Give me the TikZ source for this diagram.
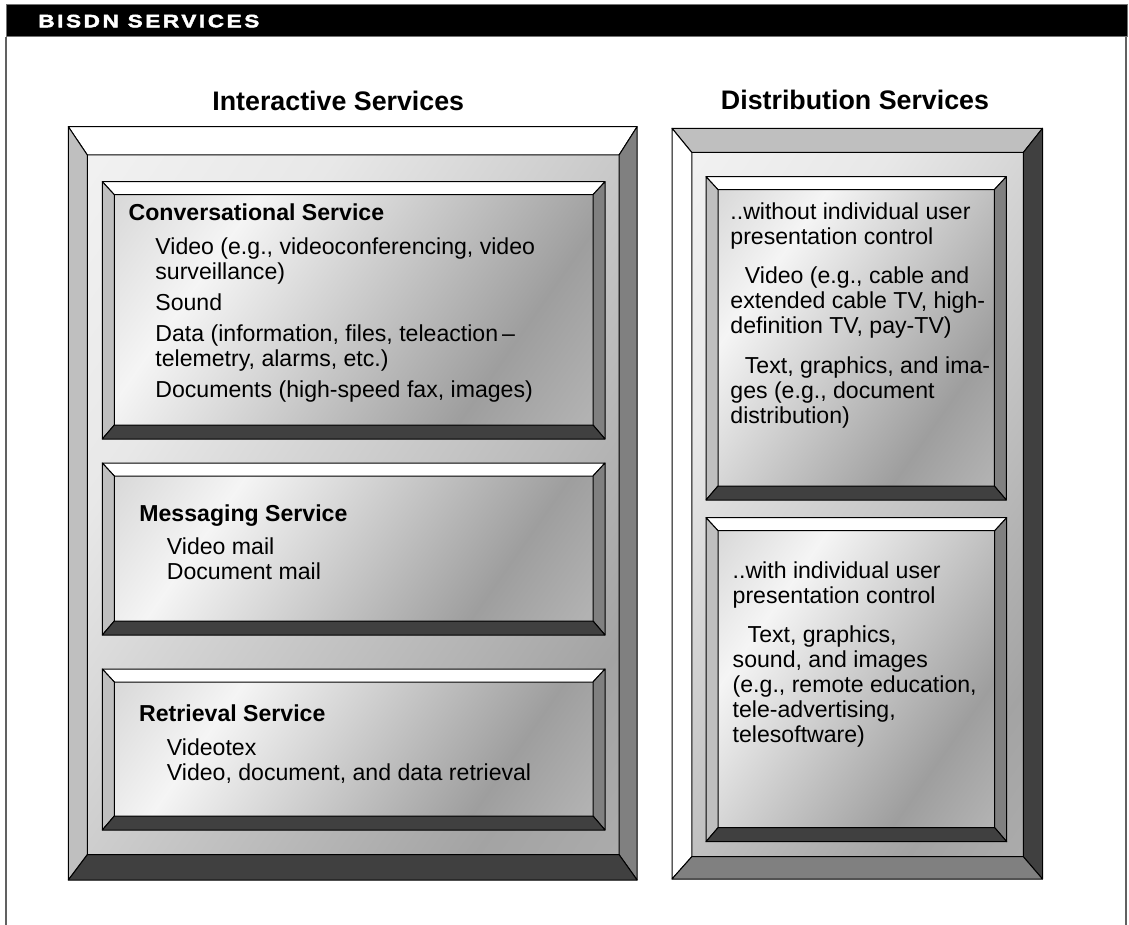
\documentclass[tikz,border=0pt]{standalone}
\usepackage{fontspec}
\setmainfont{Liberation Sans}
\newfontfamily\headfont[LetterSpace=14.5,FakeStretch=1.25,FakeBold=2.5]{Liberation Sans}
\colorlet{bvlight}{black!25}
\colorlet{bvmid}{black!50}
\colorlet{bvdark}{black!75}
\pgfdeclarehorizontalshading{facefill}{100bp}{color(0bp)=(black!26); color(31bp)=(black!4); color(70bp)=(black!38); color(84bp)=(black!30); color(100bp)=(black!42)}
\pgfdeclarehorizontalshading{panelfill}{100bp}{color(0bp)=(black!2); color(32bp)=(black!9); color(75bp)=(black!36); color(100bp)=(black!28)}

\begin{document}
\begin{tikzpicture}[x=0.5pt,y=-0.5pt,
    edge/.style={draw=black,line width=0.5pt,line join=round},
    body/.style={anchor=north west,inner sep=0pt,align=left,font=\fontsize{11.55}{12.5}\selectfont},
    label/.style={anchor=base west,inner sep=0pt,font=\fontsize{11.55}{12.5}\selectfont\bfseries},
    heading/.style={inner sep=0pt,font=\fontsize{13.4}{16}\selectfont\bfseries}]
    \useasboundingbox (0,0) rectangle (1129,925);

    % frame and header bar
    \draw[black!62,line width=1pt] (6,37) -- (6,925) (1126,37) -- (1126,925);
    \filldraw[fill=black,draw=black!55,line width=0.5pt] (6,5) rectangle (1127,37);
    \node[anchor=base west,inner sep=0pt,text=white,font=\headfont\fontsize{9}{10}\selectfont\bfseries] (hdr) at (38,27.3) {BISDN SERVICES};

    \node[heading,anchor=base west] (inter) at (212,111) {Interactive Services};
    \node[heading,anchor=base] (distr) at (855,110) {Distribution Services};

    % outer panels
    \foreach \xa/\ya/\xb/\yb/\bl/\bt/\br/\bb/\ct/\cl/\cr/\cb in {68.3/126.7/637.1/880/19/28.3/18/25.3/white/bvlight/bvmid/bvdark,
        672/128.3/1042.5/879/19.8/24.2/19.2/22.3/bvlight/white/bvdark/bvmid}{
        \shade[shading=panelfill,shading angle=-35] (\xa+\bl,\ya+\bt) rectangle (\xb-\br,\yb-\bb);
        \filldraw[edge,fill=\ct] (\xa,\ya) -- (\xb,\ya) -- (\xb-\br,\ya+\bt) -- (\xa+\bl,\ya+\bt) -- cycle;
        \filldraw[edge,fill=\cl] (\xa,\ya) -- (\xa+\bl,\ya+\bt) -- (\xa+\bl,\yb-\bb) -- (\xa,\yb) -- cycle;
        \filldraw[edge,fill=\cr] (\xb,\ya) -- (\xb,\yb) -- (\xb-\br,\yb-\bb) -- (\xb-\br,\ya+\bt) -- cycle;
        \filldraw[edge,fill=\cb] (\xa,\yb) -- (\xa+\bl,\yb-\bb) -- (\xb-\br,\yb-\bb) -- (\xb,\yb) -- cycle;
    }

    % service boxes
    \foreach \xa/\ya/\xb/\yb in {102.3/181.7/605/439, 102.3/463/605/635, 102.3/669/605/830,
        706/176.7/1006.3/500, 706/517.7/1006.7/841.7}{
        \shade[shading=facefill,shading angle=-35] (\xa+12,\ya+13) rectangle (\xb-12,\yb-14);
        \filldraw[edge,fill=white] (\xa,\ya) -- (\xb,\ya) -- (\xb-12,\ya+13) -- (\xa+12,\ya+13) -- cycle;
        \filldraw[edge,fill=bvlight] (\xa,\ya) -- (\xa+12,\ya+13) -- (\xa+12,\yb-14) -- (\xa,\yb) -- cycle;
        \filldraw[edge,fill=bvmid] (\xb,\ya) -- (\xb,\yb) -- (\xb-12,\yb-14) -- (\xb-12,\ya+13) -- cycle;
        \filldraw[edge,fill=bvdark] (\xa,\yb) -- (\xa+12,\yb-14) -- (\xb-12,\yb-14) -- (\xb,\yb) -- cycle;
    }

    % interactive services
    \node[label] (convtitle) at (128.3,220.8) {Conversational Service};
    \node[body] (convitems) at (155,254-16.8) {Video (e.g., videoconferencing, video\\
        surveillance)\\[3pt]
        Sound\\[3pt]
        Data (information, files, teleaction\,--\\
        telemetry, alarms, etc.)\\[3pt]
        Documents (high-speed fax, images)};

    \node[label] (msgtitle) at (139,521) {Messaging Service};
    \node[body] (msgitems) at (166.5,554-16.8) {Video mail\\ Document mail};

    \node[label] (rettitle) at (138.8,721.5) {Retrieval Service};
    \node[body] (retitems) at (166.5,755-16.8) {Videotex\\ Video, document, and data retrieval};

    % distribution services
    \node[body] (nocontrol) at (730,219.5-16.8) {..without individual user\\
        presentation control\\[7pt]
        \hspace*{7.25pt}Video (e.g., cable and\\
        extended cable TV, high-\\
        definition TV, pay-TV)\\[7.5pt]
        \hspace*{7.25pt}Text, graphics, and ima-\\
        ges (e.g., document\\
        distribution)};
    \node[body] (withcontrol) at (732.3,578-16.8) {..with individual user\\
        presentation control\\[7pt]
        \hspace*{7.5pt}Text, graphics,\\
        sound, and images\\
        (e.g., remote education,\\
        tele-advertising,\\
        telesoftware)};
\end{tikzpicture}
\end{document}
